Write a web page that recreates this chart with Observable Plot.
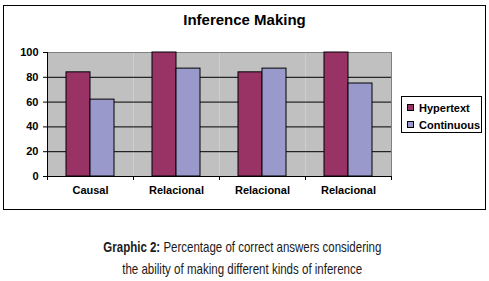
<!DOCTYPE html>
<html>
<head>
<meta charset="utf-8">
<script src="https://cdn.jsdelivr.net/npm/d3@7"></script>
<script src="https://cdn.jsdelivr.net/npm/@observablehq/plot@0.6"></script>
<style>
  body { margin: 0; background: #fff; }
  #wrap { position: relative; width: 489px; height: 281px; overflow: hidden; font-family: "Liberation Sans", Arial, sans-serif; }
  #box { position: absolute; left: 3px; top: 5px; width: 481px; height: 203px; border: 1px solid #000; }
  #title { position: absolute; left: 3px; width: 483px; top: 11px; text-align: center; font-weight: bold; font-size: 15px; color: #000; }
  #chart { position: absolute; left: 0; top: 0; }
  #legend { position: absolute; left: 401px; top: 96px; width: 79px; height: 35px; border: 1px solid #000; font-size: 11px; font-weight: bold; }
  .item { position: absolute; left: 5px; height: 12px; line-height: 12px; white-space: nowrap; }
  .sw { display: inline-block; width: 5px; height: 5px; border: 1px solid #000; margin-right: 5px; vertical-align: 1px; }
  #caption { position: absolute; left: 0; width: 485px; top: 236px; text-align: center; font-family: "Liberation Sans", Arial, sans-serif; font-size: 15px; line-height: 22px; color: #1a1a1a; }
  #caption .ln { display: block; white-space: nowrap; }
  #caption .in { display: inline-block; transform-origin: 50% 50%; }
</style>
</head>
<body>
<div id="wrap">
  <div id="box"></div>
  <div id="title">Inference Making</div>
  <div id="chart"></div>
  <div id="legend"></div>
  <div id="caption">
    <span class="ln"><span class="in"><b>Graphic 2:</b> Percentage of correct answers considering</span></span>
    <span class="ln"><span class="in">the ability of making different kinds of inference</span></span>
  </div>
</div>
<script>
const categories = ["Causal", "Relacional", "Relacional", "Relacional"];
const series = ["Hypertext", "Continuous"];
const hypertext = [84, 100, 84, 100];
const continuous = [62, 87, 87, 75];
const yTicks = [0, 20, 40, 60, 80, 100];
const colors = ["#993366", "#9999cc"];

const keys = categories.map((_, i) => String(i));
const data = [];
keys.forEach((k, i) => {
  data.push({group: k, series: "Hypertext", value: hypertext[i]});
  data.push({group: k, series: "Continuous", value: continuous[i]});
});

const chart = Plot.plot({
  width: 489,
  height: 210,
  marginTop: 52,
  marginBottom: 34,
  marginLeft: 45,
  marginRight: 97,
  style: {fontFamily: "'Liberation Sans', Arial, sans-serif", fontSize: "11px", fontWeight: "bold", color: "#000", background: "transparent"},
  fx: {domain: keys, paddingInner: 0, paddingOuter: 0, label: null},
  x: {domain: series, paddingInner: 0, paddingOuter: 0.735, axis: null},
  y: {domain: [0, 100], label: null},
  color: {domain: series, range: colors},
  marks: [
    Plot.frame({fill: "#c0c0c0", stroke: null}),
    Plot.gridY([20, 40, 60, 80], {stroke: "#000", strokeOpacity: 1}),
    Plot.ruleY([100], {stroke: "#808080"}),
    Plot.barY(data, {fx: "group", x: "series", y: "value", fill: "series", stroke: "#000", strokeWidth: 1}),
    Plot.ruleY([0], {stroke: "#000"}),
    Plot.axisY({ticks: yTicks, tickSize: 4, tickPadding: 5, fill: "#000", stroke: "#000", fontSize: 11, fontWeight: "bold"}),
    Plot.axisFx({anchor: "bottom", tickSize: 0, tickPadding: 10, tickFormat: (k) => categories[+k], fill: "#000", fontSize: 11, fontWeight: "bold", label: null})
  ]
});
document.getElementById("chart").appendChild(chart);

// extra axis lines & category boundary ticks from the plot's own scales
const fx = chart.scale("fx");
const y = chart.scale("y");
const svg = d3.select(chart);
const y0 = y.apply(0), y1 = y.apply(100);
const starts = fx.domain.map(k => fx.apply(k));
const bounds = starts.concat([starts[starts.length - 1] + fx.bandwidth]);
const g = svg.append("g");
g.append("line").attr("x1", bounds[bounds.length - 1] + 0.5).attr("x2", bounds[bounds.length - 1] + 0.5)
  .attr("y1", y1).attr("y2", y0).attr("stroke", "#808080");
g.append("line").attr("x1", bounds[0] + 0.5).attr("x2", bounds[0] + 0.5)
  .attr("y1", y1).attr("y2", y0).attr("stroke", "#000");
g.selectAll("line.b").data(bounds).join("line").attr("class", "b")
  .attr("x1", d => d + 0.5).attr("x2", d => d + 0.5)
  .attr("y1", y0).attr("y2", y0 + 4).attr("stroke", "#000");

// legend
const color = chart.scale("color");
const leg = d3.select("#legend");
series.forEach((s, i) => {
  const it = leg.append("div").attr("class", "item").style("top", (5 + i * 17) + "px");
  it.append("span").attr("class", "sw").style("background", color.apply(s));
  it.append("span").text(s);
});

// condensed caption: squeeze horizontally to the reference's narrow typeface
const targets = [278, 240];
document.querySelectorAll("#caption .in").forEach((el, i) => {
  const w = el.getBoundingClientRect().width;
  el.style.transform = `scaleX(${targets[i] / w})`;
});
</script>
</body>
</html>
